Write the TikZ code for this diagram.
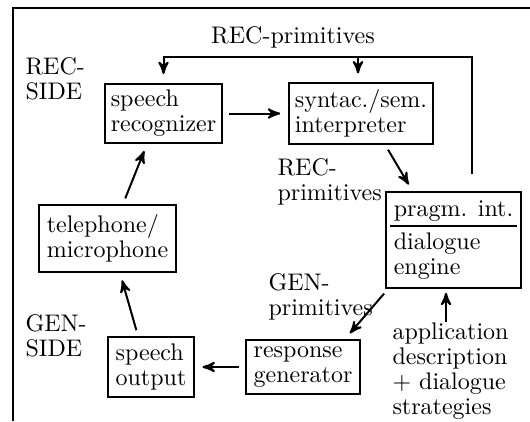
\documentclass[tikz,border=0pt]{standalone}
\usepackage{amsmath,amssymb}
\usetikzlibrary{shapes,arrows,calc}
\tikzstyle{mod} = [draw,line width=0.8pt,rectangle,align=left,inner sep=2.5pt,minimum height=59*\px]
\tikzstyle{lbl} = [align=left,inner sep=0pt,anchor=north west]
\tikzstyle{flow} = [-stealth',line width=0.8pt,shorten <=2.4pt,shorten >=3pt]
\tikzstyle{border} = [line width=0.6pt]
\def \px {0.4pt}

\begin{document}
\begin{tikzpicture}[x=\px,y=-\px,font=\fontsize{9.6}{10}\selectfont]
      \useasboundingbox (0,0) rectangle (530,421);
      \draw[border] (13,421) -- (13,8) -- (530,8);
      % modules
      \node[mod,minimum width=117*\px] (rec) at (163.5,113.5) {speech\\recognizer};
      \node[mod,minimum width=138*\px] (interp) at (361,113.5) {syntac./sem.\\interpreter};
      \node[mod,minimum width=137*\px,minimum height=67*\px] (tel) at (107.5,238.5) {telephone/\\microphone};
      \node[mod,minimum width=135*\px,minimum height=96*\px] (pragm) at (453.5,240) {pragm. int.\\[3pt]dialogue\\engine};
      \node[mod,minimum width=86*\px,minimum height=60*\px] (out) at (151,367) {speech\\output};
      \node[mod,minimum width=114*\px,minimum height=54*\px] (resp) at (303,367) {response\\generator};
      \draw[line width=0.8pt] ($(pragm.north west)+(5,35)$) -- ($(pragm.north east)+(-5,35)$);
      % labels
      \node[lbl,anchor=base] (recprimtop) at (293,43) {REC-primitives};
      \node[lbl] (recside) at (25,57) {REC-\\SIDE};
      \node[lbl] (recprim) at (277,158) {REC-\\primitives};
      \node[lbl] (genprim) at (268,273) {GEN-\\primitives};
      \node[lbl] (genside) at (25,314) {GEN-\\SIDE};
      \node[lbl] (appl) at (392,322) {application\\description\\+ dialogue\\strategies};
      % connectors
      \coordinate (fb) at (472,57);
      \coordinate (pfoot) at ($(pragm.south)+(-7.5,0)$);
      \draw[flow] (rec.east) -- (interp.west);
      \draw[flow] ($(interp.south)+(24,0)$) -- ($(pragm.north)+(-41,0)$);
      \draw[flow] ($(pragm.south west)+(3,0)$) -- ($(resp.north east)+(-16,0)$);
      \draw[flow] (resp.west) -- (out.east);
      \draw[flow] ($(out.north)+(-13,0)$) -- ($(tel.south)+(12.5,0)$);
      \draw[flow] ($(tel.north)+(15.5,0)$) -- ($(rec.south)+(-16.5,0)$);
      \draw[flow,shorten <=0pt,shorten >=1.5pt] (appl.north -| pfoot) -- (pfoot);
      \draw[flow,shorten <=6.8pt,shorten >=3.6pt] (fb |- pragm.north) -- (fb) -| (rec.north);
      \draw[flow,shorten <=0pt,shorten >=3.6pt] ($(interp.north |- fb)+(-3,0)$) -- ($(interp.north)+(-3,0)$);
    \end{tikzpicture}
\end{document}
